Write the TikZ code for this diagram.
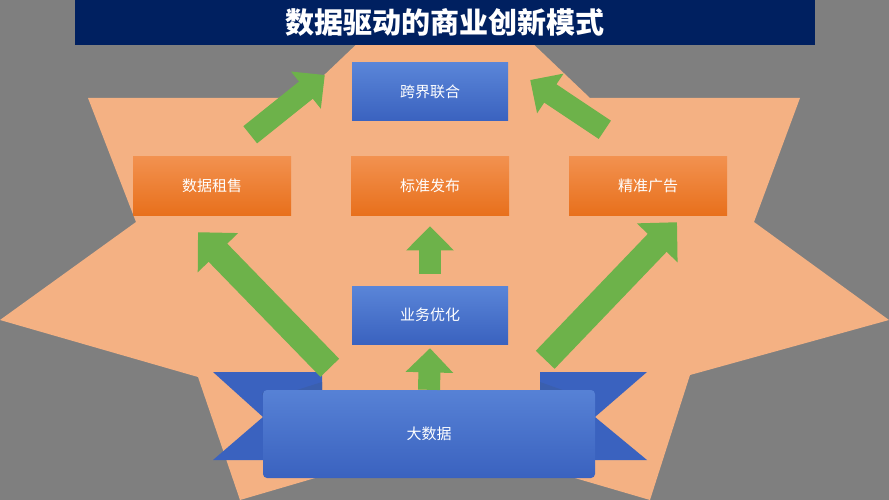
\documentclass[tikz,border=0pt]{standalone}
\usepackage{fontspec}
\setmainfont{Noto Sans CJK SC}
\usetikzlibrary{arrows.meta,positioning}
\definecolor{bggray}{HTML}{7F7F7F}
\definecolor{starorange}{HTML}{F4B183}
\definecolor{navy}{HTML}{002060}
\definecolor{blueT}{HTML}{5A85D8}
\definecolor{blueB}{HTML}{3A62BF}
\definecolor{orangeT}{HTML}{F2914F}
\definecolor{orangeB}{HTML}{E8701C}
\definecolor{arrowgreen}{HTML}{6DB24A}
\definecolor{foldblue}{HTML}{3A5FAE}

\begin{document}
\begin{tikzpicture}[
    x=1pt, y=-1pt,
    font=\fontsize{15}{18}\selectfont,
    bluebox/.style={rectangle, minimum width=156pt, minimum height=58pt,
                    top color=blueT, bottom color=blueB, text=white},
    orangebox/.style={rectangle, minimum width=158pt, minimum height=58pt,
                      top color=orangeT, bottom color=orangeB, text=white},
    bigarrow/.style={arrowgreen, line width=#1,
                     -{Triangle[length=0pt 1.1, width=0pt 2.1]}},
    bigarrow/.default=24pt
]
\useasboundingbox (0,0) rectangle (889,500);

% Background and star
\fill[bggray] (0,0) rectangle (889,500);
\begin{scope}
\clip (0,0) rectangle (889,500);
\fill[starorange] (88,98) -- (300,98) -- (445,-40) -- (590,98) -- (800,98)
    -- (754,222) -- (889,320) -- (690,375) -- (650,500) -- (445,440)
    -- (240,500) -- (198,377) -- (0,320) -- (136,222) -- cycle;
\end{scope}

% Title
\fill[navy] (75,0) rectangle (815,45);
\node[text=white, font=\fontsize{29}{32}\selectfont\bfseries] (title) at (445,22) {数据驱动的商业创新模式};

% Boxes
\node[bluebox] (union) at (430,92) {跨界联合};
\node[orangebox] (lease) at (212,186) {数据租售};
\node[orangebox] (std) at (430,186) {标准发布};
\node[orangebox] (ads) at (648,186) {精准广告};
\node[bluebox] (opt) at (430,315) {业务优化};

% Ribbon
\fill[blueB] (213,372) -- (322,372) -- (322,460) -- (213,460) -- (263,417) -- cycle;
\fill[blueB] (647,372) -- (540,372) -- (540,460) -- (647,460) -- (595,417) -- cycle;
\fill[foldblue] (322,390) -- (272,390) arc[start angle=270, end angle=90, x radius=10pt, y radius=-4pt] -- (322,382) -- cycle;
\fill[foldblue] (540,390) -- (585,390) arc[start angle=-90, end angle=90, x radius=10pt, y radius=-4pt] -- (540,382) -- cycle;
\node[rectangle, rounded corners=4pt, minimum width=332pt, minimum height=88pt,
      top color=blueT!90!blueB, bottom color=blueB, text=white] (bigdata) at (429,434) {大数据};

% Arrow anchors
\coordinate (leaseTail) at ([xshift=-41pt, yshift=22pt]lease.north east);
\coordinate (adsTail) at ([xshift=36pt, yshift=27pt]ads.north west);
\coordinate (bigL) at ([xshift=67pt, yshift=22pt]bigdata.north west);
\coordinate (bigR) at ([xshift=-50pt, yshift=30pt]bigdata.north east);

% Green arrows
\draw[bigarrow=22pt] (leaseTail) -- ([xshift=-27pt, yshift=17pt]union.west);
\draw[bigarrow=22pt] (adsTail) -- ([xshift=22pt, yshift=12pt]union.east);
\draw[bigarrow=26pt] (bigL) -- ([xshift=-14pt, yshift=-17pt]lease.south);
\draw[bigarrow=26pt] (bigR) -- ([xshift=29pt, yshift=-7pt]ads.south);
\draw[bigarrow=22pt] ([yshift=12pt]opt.north) -- ([yshift=-11pt]std.south);
\draw[bigarrow=22pt] (bigdata.north) -- ([yshift=-4pt]opt.south);

\end{tikzpicture}
\end{document}
